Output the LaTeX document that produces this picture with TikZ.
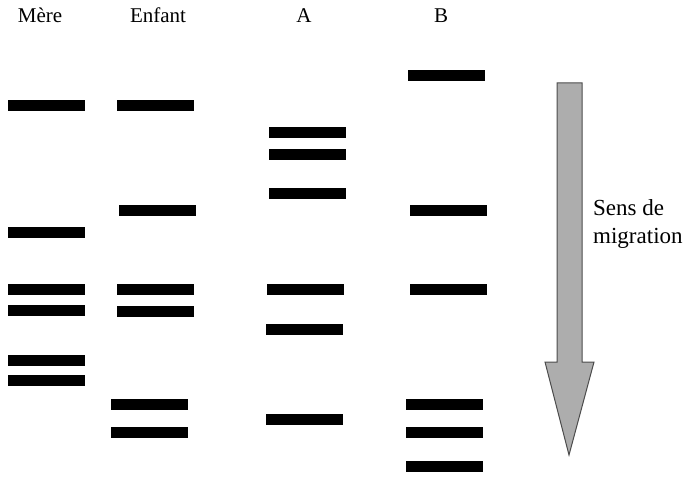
\documentclass[tikz,border=0pt]{standalone}
\usepackage{fontspec}
\setmainfont{Liberation Serif}
\begin{document}
\begin{tikzpicture}[x=1pt,y=-1pt,
  band/.style={fill=black,draw=none,inner sep=0pt,minimum width=77pt,minimum height=11pt},
  lab/.style={anchor=base,inner sep=0pt,font=\fontsize{21}{25}\selectfont},
  migr/.style={anchor=base west,inner sep=0pt,align=left,font=\fontsize{23}{28}\selectfont}]
\useasboundingbox (0,0) rectangle (687,478);
% column labels
\node[lab] (lm) at (40,23) {Mère};
\node[lab] (le) at (158,23) {Enfant};
\node[lab] (la) at (304,23) {A};
\node[lab] (lb) at (441,23) {B};
% Mere
\node[band] (m1) at (46.5,106) {};
\node[band] (m2) at (46.5,232) {};
\node[band] (m3) at (46.5,289) {};
\node[band] (m4) at (46.5,310) {};
\node[band] (m5) at (46.5,360) {};
\node[band] (m6) at (46.5,380) {};
% Enfant
\node[band] (e1) at (155.5,106) {};
\node[band] (e2) at (157,211) {};
\node[band] (e3) at (155.5,289) {};
\node[band] (e4) at (155.5,311) {};
\node[band] (e5) at (149,404) {};
\node[band] (e6) at (149,432) {};
% A
\node[band] (a1) at (307.5,133) {};
\node[band] (a2) at (307.5,155) {};
\node[band] (a3) at (307.5,194) {};
\node[band] (a4) at (305.5,289) {};
\node[band] (a5) at (304.5,329) {};
\node[band] (a6) at (304.5,419) {};
% B
\node[band] (b1) at (446,76) {};
\node[band] (b2) at (448.5,211) {};
\node[band] (b3) at (448.5,289) {};
\node[band] (b4) at (444.5,404) {};
\node[band] (b5) at (444.5,432) {};
\node[band] (b6) at (444.5,466) {};
% migration arrow
\draw[fill=black!32,draw=black!70,line width=1pt,line join=miter]
  (557,83) -- (582,83) -- (582,362) -- (594,362) -- (569,455) -- (545,362) -- (557,362) -- cycle;
\node[migr] (sens) at (593,243) {Sens de\\migration};
\end{tikzpicture}
\end{document}
